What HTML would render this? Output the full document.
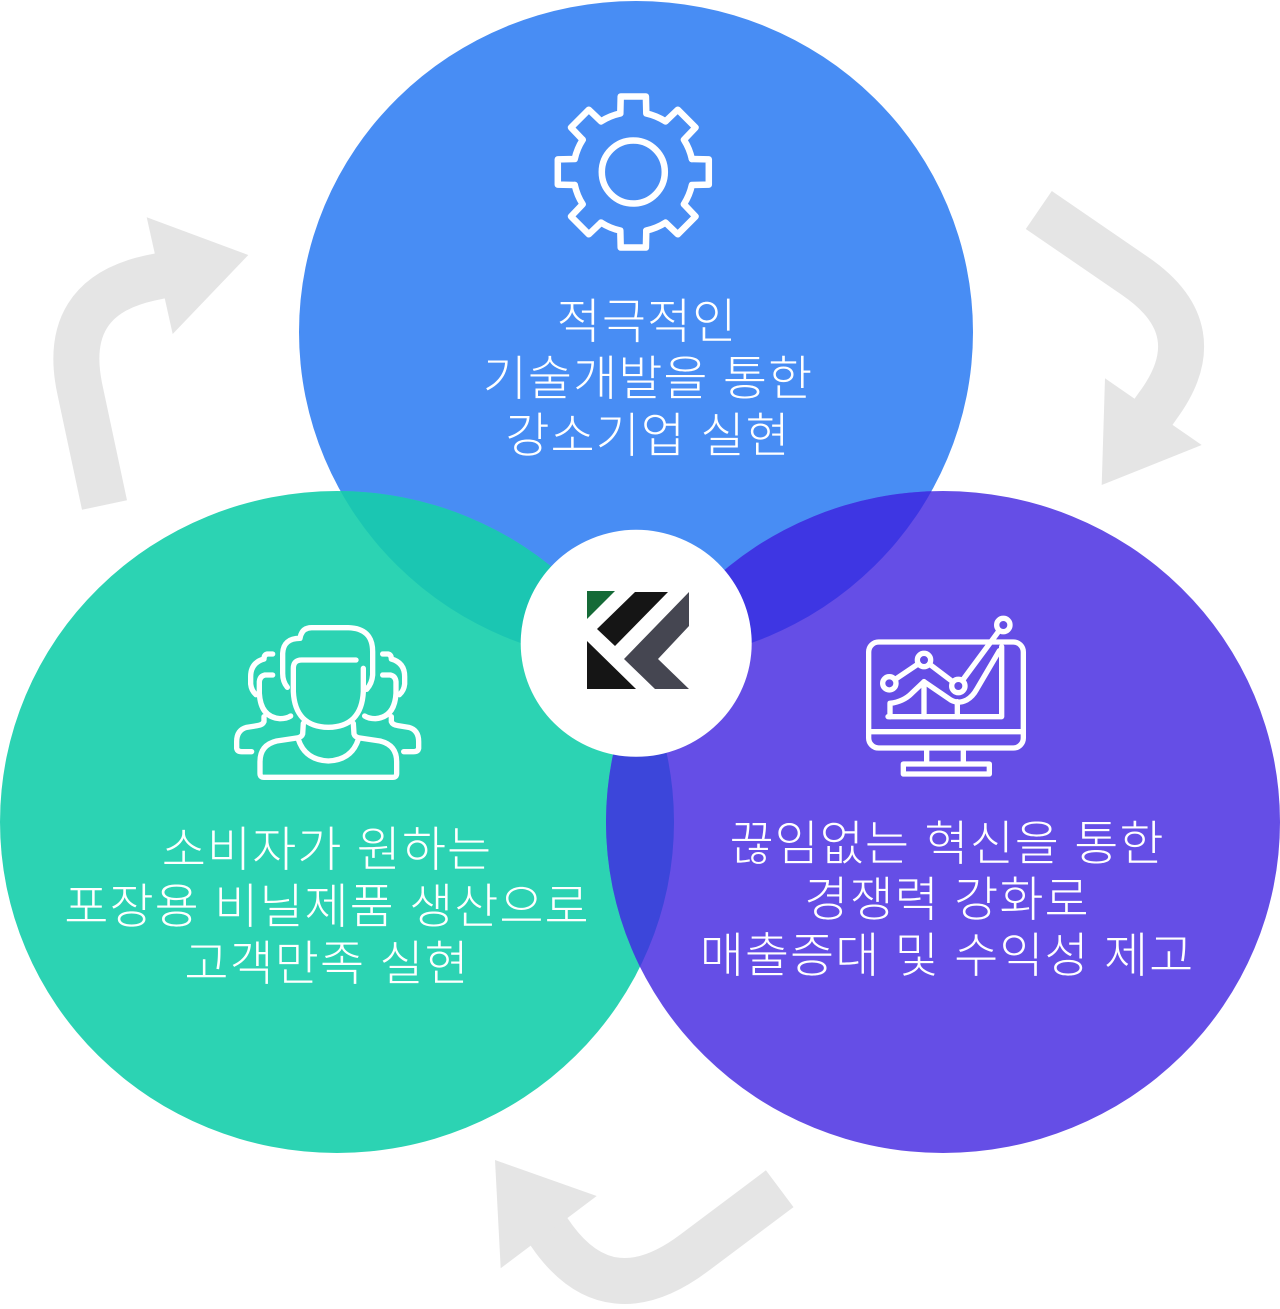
<!DOCTYPE html>
<html>
<head>
<meta charset="utf-8">
<style>
html,body{margin:0;padding:0;background:#fff;}
body{width:1280px;height:1309px;overflow:hidden;}
svg{display:block;}
.t{font-family:"Liberation Sans","Noto Sans CJK KR","NanumGothic",sans-serif;font-weight:300;font-size:48px;letter-spacing:1px;fill:#fff;text-anchor:middle;}
</style>
</head>
<body>
<svg width="1280" height="1309" viewBox="0 0 1280 1309" xmlns="http://www.w3.org/2000/svg">
  <defs>
    <clipPath id="cBlue"><ellipse cx="636" cy="332" rx="337" ry="331"/></clipPath>
    <clipPath id="cTeal"><ellipse cx="337" cy="822" rx="337" ry="331"/></clipPath>
  </defs>

  <!-- arrows -->
  <g fill="none" stroke="#e5e5e5" stroke-width="46">
    <path d="M 104.5 505 L 80 390 Q 60 297.6 150 278 L 162 275.5"/>
    <path d="M 1038.8 210 L 1135 276 Q 1214 330 1157.6 406 L 1152 414"/>
    <path d="M 779.7 1188.7 L 694 1253 Q 610.8 1315.4 554 1238.9 L 547 1229"/>
  </g>
  <g fill="#e5e5e5">
    <polygon points="146.7,217.3 248.3,255 172.7,334"/>
    <polygon points="1105,378.3 1201.7,445 1101.7,485"/>
    <polygon points="495,1160 596.7,1196 500.7,1268.3"/>
  </g>

  <!-- circles -->
  <ellipse cx="636" cy="332" rx="337" ry="331" fill="#488df4"/>
  <ellipse cx="337" cy="822" rx="337" ry="331" fill="#2cd3b3"/>
  <ellipse cx="943" cy="822" rx="337" ry="331" fill="#654ee6"/>
  <ellipse cx="337" cy="822" rx="337" ry="331" fill="#1bc6b2" clip-path="url(#cBlue)"/>
  <ellipse cx="943" cy="822" rx="337" ry="331" fill="#3e36e3" clip-path="url(#cBlue)"/>
  <ellipse cx="943" cy="822" rx="337" ry="331" fill="#3c46da" clip-path="url(#cTeal)"/>

  <!-- center white circle + logo -->
  <ellipse cx="636.2" cy="643.3" rx="115.5" ry="113.5" fill="#fff"/>
  <polygon points="587,591 615,591 587,619" fill="#156a37"/>
  <polygon points="635,592 668,592 615,646 597,629" fill="#151515"/>
  <polygon points="587,641 587,689 636,689" fill="#151515"/>
  <polygon points="689,592 689,626 658,659 689,689 655,689 624,659" fill="#454651"/>

  <!-- gear icon -->
  <g transform="translate(633.3,172)" fill="none" stroke="#fff" stroke-width="6.5" stroke-linejoin="round" stroke-linecap="round">
    <circle cx="0" cy="0" r="31.5"/>
    <path d="M -13 -58.6 L -12.6 -75.5 L 12.6 -75.5 L 13 -58.6 A 60 60 0 0 1 32.2 -50.6"/>
    <path transform="rotate(45)" d="M -13 -58.6 L -12.6 -75.5 L 12.6 -75.5 L 13 -58.6 A 60 60 0 0 1 32.2 -50.6"/>
    <path transform="rotate(90)" d="M -13 -58.6 L -12.6 -75.5 L 12.6 -75.5 L 13 -58.6 A 60 60 0 0 1 32.2 -50.6"/>
    <path transform="rotate(135)" d="M -13 -58.6 L -12.6 -75.5 L 12.6 -75.5 L 13 -58.6 A 60 60 0 0 1 32.2 -50.6"/>
    <path transform="rotate(180)" d="M -13 -58.6 L -12.6 -75.5 L 12.6 -75.5 L 13 -58.6 A 60 60 0 0 1 32.2 -50.6"/>
    <path transform="rotate(225)" d="M -13 -58.6 L -12.6 -75.5 L 12.6 -75.5 L 13 -58.6 A 60 60 0 0 1 32.2 -50.6"/>
    <path transform="rotate(270)" d="M -13 -58.6 L -12.6 -75.5 L 12.6 -75.5 L 13 -58.6 A 60 60 0 0 1 32.2 -50.6"/>
    <path transform="rotate(315)" d="M -13 -58.6 L -12.6 -75.5 L 12.6 -75.5 L 13 -58.6 A 60 60 0 0 1 32.2 -50.6"/>
  </g>

  <!-- people icon -->
  <g transform="translate(0,460) scale(0.33333)" fill="none" stroke="#fff" stroke-width="16" stroke-linejoin="round" stroke-linecap="round">
    <path d="M 862 682 Q 848 665 848 640 L 848 580 Q 850 535 900 535 Q 905 503 935 503 L 1045 503 Q 1118 505 1118 575 L 1118 645 Q 1116 670 1100 688"/>
    <path d="M 1068 600 L 905 600 Q 880 600 880 625 L 880 695 Q 885 800 985 802 Q 1085 800 1090 695 L 1090 625"/>
    <path d="M 1060 790 L 1062 822 Q 1065 832 1080 834 L 1140 843 Q 1190 855 1190 905 L 1190 940 Q 1190 952 1178 952 L 792 952 Q 780 952 780 940 L 780 905 Q 780 855 830 843 L 890 834 Q 905 832 908 822 L 910 790"/>
    <path d="M 895 838 Q 915 900 985 903 Q 1055 900 1075 838"/>
    <g>
      <path d="M 818 582 L 802 582 Q 792 584 792 597 Q 752 608 752 650 L 752 672 Q 754 692 768 704"/>
      <path d="M 818 645 L 795 645 Q 780 648 778 665 L 778 700 Q 782 772 840 776 Q 860 776 872 768"/>
      <path d="M 792 770 L 792 785 Q 788 795 772 797 L 740 802 Q 710 810 710 845 L 710 865 Q 712 875 725 875 L 755 875"/>
    </g>
    <g transform="translate(1966,0) scale(-1,1)">
      <path d="M 818 582 L 802 582 Q 792 584 792 597 Q 752 608 752 650 L 752 672 Q 754 692 768 704"/>
      <path d="M 818 645 L 795 645 Q 780 648 778 665 L 778 700 Q 782 772 840 776 Q 860 776 872 768"/>
      <path d="M 792 770 L 792 785 Q 788 795 772 797 L 740 802 Q 710 810 710 845 L 710 865 Q 712 875 725 875 L 755 875"/>
    </g>
  </g>

  <!-- monitor icon -->
  <g transform="translate(850,600) scale(0.33333)" fill="none" stroke="#fff" stroke-width="16" stroke-linejoin="round" stroke-linecap="round">
    <rect x="56" y="126" width="464" height="318" rx="30"/>
    <line x1="56" y1="395" x2="520" y2="395"/>
    <line x1="230" y1="448" x2="230" y2="490"/>
    <line x1="340" y1="448" x2="340" y2="490"/>
    <rect x="160" y="492" width="258" height="30"/>
    <path d="M 455 140 L 455 350 L 114 350"/>
    <path d="M 120 350 L 120 310 Q 160 305 185 280 L 222 245 L 295 295 Q 320 315 350 300 Q 368 290 380 268 L 448 152"/>
    <line x1="222" y1="245" x2="222" y2="350"/>
    <line x1="322" y1="305" x2="322" y2="350"/>
    <polyline points="118,250 222,180 325,258 460,75"/>
    <circle cx="118" cy="250" r="20" fill="#654ee6"/>
    <circle cx="222" cy="180" r="20" fill="#654ee6"/>
    <circle cx="325" cy="258" r="20" fill="#654ee6"/>
    <circle cx="460" cy="75" r="20" fill="#654ee6"/>
  </g>

  <!-- texts -->
  <text class="t" x="647" y="338">적극적인</text>
  <text class="t" x="648" y="395">기술개발을 통한</text>
  <text class="t" x="648" y="452">강소기업 실현</text>

  <text class="t" x="327" y="866">소비자가 원하는</text>
  <text class="t" x="327" y="923">포장용 비닐제품 생산으로</text>
  <text class="t" x="327" y="980">고객만족 실현</text>

  <text class="t" x="947" y="860">끊임없는 혁신을 통한</text>
  <text class="t" x="947" y="916">경쟁력 강화로</text>
  <text class="t" x="947" y="972">매출증대 및 수익성 제고</text>
</svg>
</body>
</html>
